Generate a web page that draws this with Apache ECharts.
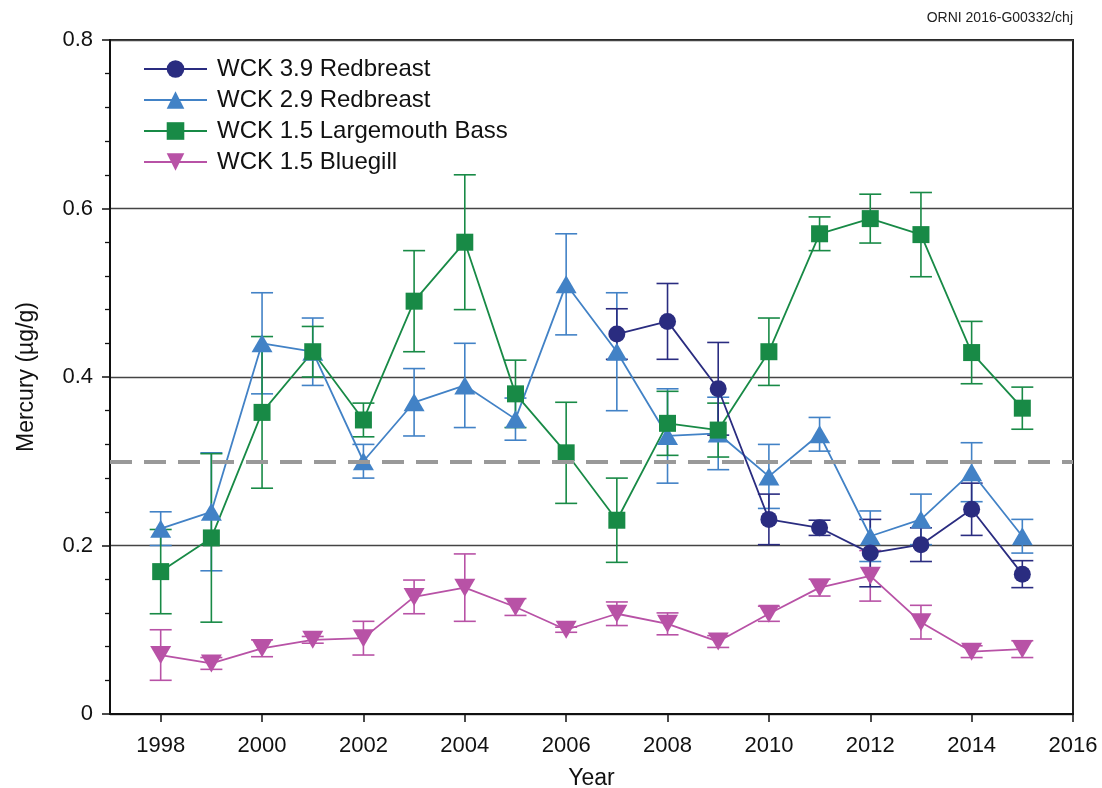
<!DOCTYPE html>
<html>
<head>
<meta charset="utf-8">
<title>Mercury in fish, WCK</title>
<script src="https://cdn.jsdelivr.net/npm/echarts@6/dist/echarts.min.js"></script>
<style>
  html, body { margin: 0; padding: 0; background: #fff; }
  #chart { width: 1102px; height: 788px; }
</style>
</head>
<body>
<div id="chart"></div>
<script>
// Sampling years and x-axis labels
const yearTicks = [1998, 2000, 2002, 2004, 2006, 2008, 2010, 2012, 2014, 2016];
const yearsFull = [1998, 1999, 2000, 2001, 2002, 2003, 2004, 2005, 2006, 2007, 2008, 2009, 2010, 2011, 2012, 2013, 2014, 2015];
const yearsWck39 = [2007, 2008, 2009, 2010, 2011, 2012, 2013, 2014, 2015];

// Mean mercury (µg/g) and error half-widths per site/species
const wck39Redbreast = [0.451, 0.466, 0.386, 0.231, 0.221, 0.191, 0.201, 0.243, 0.166];
const wck39RedbreastErr = [0.03, 0.045, 0.055, 0.03, 0.009, 0.04, 0.02, 0.031, 0.016];

const wck29Redbreast = [0.22, 0.24, 0.44, 0.43, 0.30, 0.37, 0.39, 0.35, 0.51, 0.43, 0.33, 0.333, 0.282, 0.332, 0.211, 0.231, 0.287, 0.211];
const wck29RedbreastErr = [0.02, 0.07, 0.06, 0.04, 0.02, 0.04, 0.05, 0.025, 0.06, 0.07, 0.056, 0.043, 0.038, 0.02, 0.03, 0.03, 0.035, 0.02];

const wck15Bass = [0.169, 0.209, 0.358, 0.43, 0.349, 0.49, 0.56, 0.38, 0.31, 0.23, 0.345, 0.337, 0.43, 0.57, 0.588, 0.569, 0.429, 0.363];
const wck15BassErr = [0.05, 0.1, 0.09, 0.03, 0.02, 0.06, 0.08, 0.04, 0.06, 0.05, 0.038, 0.032, 0.04, 0.02, 0.029, 0.05, 0.037, 0.025];

const wck15Bluegill = [0.07, 0.06, 0.078, 0.088, 0.09, 0.139, 0.15, 0.127, 0.1, 0.119, 0.107, 0.086, 0.119, 0.15, 0.164, 0.109, 0.074, 0.077];
const wck15BluegillErr = [0.03, 0.007, 0.01, 0.004, 0.02, 0.02, 0.04, 0.01, 0.003, 0.014, 0.013, 0.007, 0.009, 0.01, 0.03, 0.02, 0.007, 0.01];

// Fish-tissue criterion reference level
const criterion = 0.3;

const FONT = '"Liberation Sans", Arial, Helvetica, sans-serif';

function pairs(xs, ys) { return xs.map((x, i) => [x, ys[i]]); }
function errRows(xs, ys, es) { return xs.map((x, i) => [x, ys[i] - es[i], ys[i] + es[i]]); }

function errorBars(color, rows) {
  return {
    type: 'custom',
    silent: true,
    data: rows,
    encode: { x: 0, y: [1, 2] },
    renderItem(params, api) {
      const x = api.value(0);
      const top = api.coord([x, api.value(2)]);
      const bot = api.coord([x, api.value(1)]);
      const hw = 11;
      const st = { stroke: color, lineWidth: 1.6 };
      return {
        type: 'group',
        children: [
          { type: 'line', shape: { x1: top[0], y1: top[1], x2: bot[0], y2: bot[1] }, style: st },
          { type: 'line', shape: { x1: top[0] - hw, y1: top[1], x2: top[0] + hw, y2: top[1] }, style: st },
          { type: 'line', shape: { x1: bot[0] - hw, y1: bot[1], x2: bot[0] + hw, y2: bot[1] }, style: st }
        ]
      };
    }
  };
}

function lineSeries(name, color, symbol, size, data, rotate) {
  return {
    name, type: 'line', data,
    symbol, symbolSize: size, symbolRotate: rotate || 0,
    showAllSymbol: true,
    lineStyle: { color, width: 1.8 },
    itemStyle: { color },
    emphasis: { disabled: true }
  };
}

const C_NAVY = '#2a2c80';
const C_BLUE = '#4282c6';
const C_GREEN = '#188a46';
const C_PINK = '#b852a6';

const chart = echarts.init(document.getElementById('chart'), null, { renderer: 'canvas' });

chart.setOption({
  animation: false,
  backgroundColor: '#fff',
  textStyle: { fontFamily: FONT },
  grid: {
    left: 110, right: 29, top: 40, bottom: 74,
    containLabel: false, outerBoundsMode: 'none',
    show: true, borderColor: '#222', borderWidth: 2, backgroundColor: 'transparent'
  },
  graphic: [{
    type: 'text', right: 29, top: 11,
    style: { text: 'ORNI 2016-G00332/chj', fontSize: 14, fontFamily: FONT, fill: '#222' }
  }],
  legend: {
    data: ['WCK 3.9 Redbreast', 'WCK 2.9 Redbreast', 'WCK 1.5 Largemouth Bass', 'WCK 1.5 Bluegill'],
    orient: 'vertical', left: 143, top: 57, padding: 0,
    itemWidth: 63, itemHeight: 22, itemGap: 7,
    textStyle: { fontSize: 24, fontFamily: FONT, color: '#111', padding: [0, 0, 0, 5] }
  },
  xAxis: {
    type: 'value', min: 1997, max: 2016,
    name: 'Year', nameLocation: 'middle', nameGap: 53,
    nameTextStyle: { fontSize: 23, color: '#111', fontFamily: FONT },
    axisLine: { show: true, lineStyle: { color: '#111', width: 2 } },
    axisTick: { show: true, customValues: yearTicks, length: 8, lineStyle: { color: '#111', width: 1.5 } },
    axisLabel: {
      customValues: yearTicks, fontSize: 22, color: '#111', margin: 21, fontFamily: FONT,
      formatter: v => String(v)
    },
    splitLine: { show: false }
  },
  yAxis: {
    type: 'value', min: 0, max: 0.8, interval: 0.2,
    name: 'Mercury (µg/g)', nameLocation: 'middle', nameGap: 72, nameRotate: 90,
    nameTextStyle: { fontSize: 23, color: '#111', fontFamily: FONT },
    axisLine: { show: true, lineStyle: { color: '#111', width: 2 } },
    axisTick: { show: true, length: 8, lineStyle: { color: '#111', width: 1.5 } },
    minorTick: { show: true, splitNumber: 5, length: 5, lineStyle: { color: '#111', width: 1.3 } },
    axisLabel: { fontSize: 22, color: '#111', margin: 17, fontFamily: FONT },
    splitLine: { show: true, lineStyle: { color: '#444', width: 1.3 } }
  },
  series: [
    {
      type: 'line', data: [], silent: true,
      markLine: {
        silent: true, symbol: 'none', label: { show: false },
        lineStyle: { color: '#999', width: 4, type: [22, 12] },
        data: [{ yAxis: criterion }]
      }
    },
    errorBars(C_PINK, errRows(yearsFull, wck15Bluegill, wck15BluegillErr)),
    lineSeries('WCK 1.5 Bluegill', C_PINK, 'triangle', [21, 18], pairs(yearsFull, wck15Bluegill), 180),
    errorBars(C_BLUE, errRows(yearsFull, wck29Redbreast, wck29RedbreastErr)),
    lineSeries('WCK 2.9 Redbreast', C_BLUE, 'triangle', [21, 18], pairs(yearsFull, wck29Redbreast)),
    errorBars(C_GREEN, errRows(yearsFull, wck15Bass, wck15BassErr)),
    lineSeries('WCK 1.5 Largemouth Bass', C_GREEN, 'rect', 17, pairs(yearsFull, wck15Bass)),
    errorBars(C_NAVY, errRows(yearsWck39, wck39Redbreast, wck39RedbreastErr)),
    lineSeries('WCK 3.9 Redbreast', C_NAVY, 'circle', 17, pairs(yearsWck39, wck39Redbreast))
  ]
});
</script>
</body>
</html>
